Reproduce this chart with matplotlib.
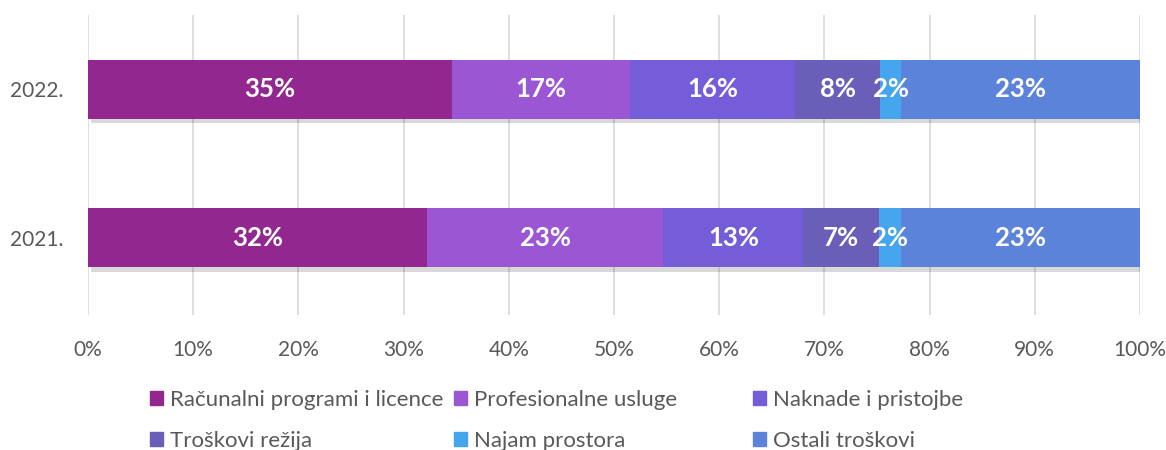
import numpy as np
import matplotlib.pyplot as plt
import matplotlib.patheffects as pe
from matplotlib.patches import Patch

plt.rcParams['font.family'] = ['Lato', 'DejaVu Sans']

# podaci (udio u %)
godine = ['2021.', '2022.']
kategorije = ['Računalni programi i licence', 'Profesionalne usluge', 'Naknade i pristojbe',
              'Troškovi režija', 'Najam prostora', 'Ostali troškovi']
vrijednosti_2021 = [32.2, 22.5, 13.3, 7.2, 2.1, 22.7]
vrijednosti_2022 = [34.6, 16.9, 15.7, 8.1, 2.0, 22.7]
oznake_2021 = ['32%', '23%', '13%', '7%', '2%', '23%']
oznake_2022 = ['35%', '17%', '16%', '8%', '2%', '23%']
boje = ['#92278F', '#9B57D3', '#755DD9', '#6A5FB8', '#45A5ED', '#5B83D9']

podaci = np.array([vrijednosti_2021, vrijednosti_2022])
oznake = [oznake_2021, oznake_2022]

fig = plt.figure(figsize=(11.66, 4.5), dpi=100)
ax = fig.add_axes([88 / 1166, 1 - 315 / 450, (1140 - 88) / 1166, 300 / 450])

y = np.arange(len(godine))
lijevo = np.zeros(len(godine))
sjena = [pe.SimplePatchShadow(offset=(2, -3), alpha=0.15, shadow_rgbFace='#000000'), pe.Normal()]
for i, kat in enumerate(kategorije):
    bars = ax.barh(y, podaci[:, i], left=lijevo, height=0.4, color=boje[i], label=kat, zorder=3)
    for b in bars:
        b.set_path_effects(sjena)
    for j in range(len(godine)):
        ax.text(lijevo[j] + podaci[j, i] / 2, y[j], oznake[j][i], ha='center', va='center',
                color='white', fontsize=18.5, fontweight='bold', zorder=4)
    lijevo += podaci[:, i]

ax.set_xlim(0, 100)
ax.set_ylim(-0.52, 1.5)
ax.set_xticks(np.arange(0, 101, 10))
ax.set_xticklabels([f'{v}%' for v in range(0, 101, 10)])
ax.set_yticks(y)
ax.set_yticklabels(godine)
ax.tick_params(length=0, labelsize=15, colors='#595959')
ax.tick_params(axis='y', pad=18)
ax.tick_params(axis='x', pad=18)
ax.grid(axis='x', color='#d9d9d9', linewidth=1.2, zorder=0)
for s in ax.spines.values():
    s.set_visible(False)

# legenda u tri stupca
rucke = [Patch(color=c) for c in boje]
stupci = [(0, 3), (1, 4), (2, 5)]
x_poz = [150, 454, 753]
for (a, b), xp in zip(stupci, x_poz):
    fig.legend([rucke[a], rucke[b]], [kategorije[a], kategorije[b]],
               loc='upper left', bbox_to_anchor=(xp / 1166, 1 - 390 / 450),
               frameon=False, fontsize=16, labelcolor='#595959',
               handlelength=0.6, handleheight=0.6, handletextpad=0.3,
               labelspacing=0.95, borderpad=0, borderaxespad=0)

fig.savefig('out.png', dpi=100)
